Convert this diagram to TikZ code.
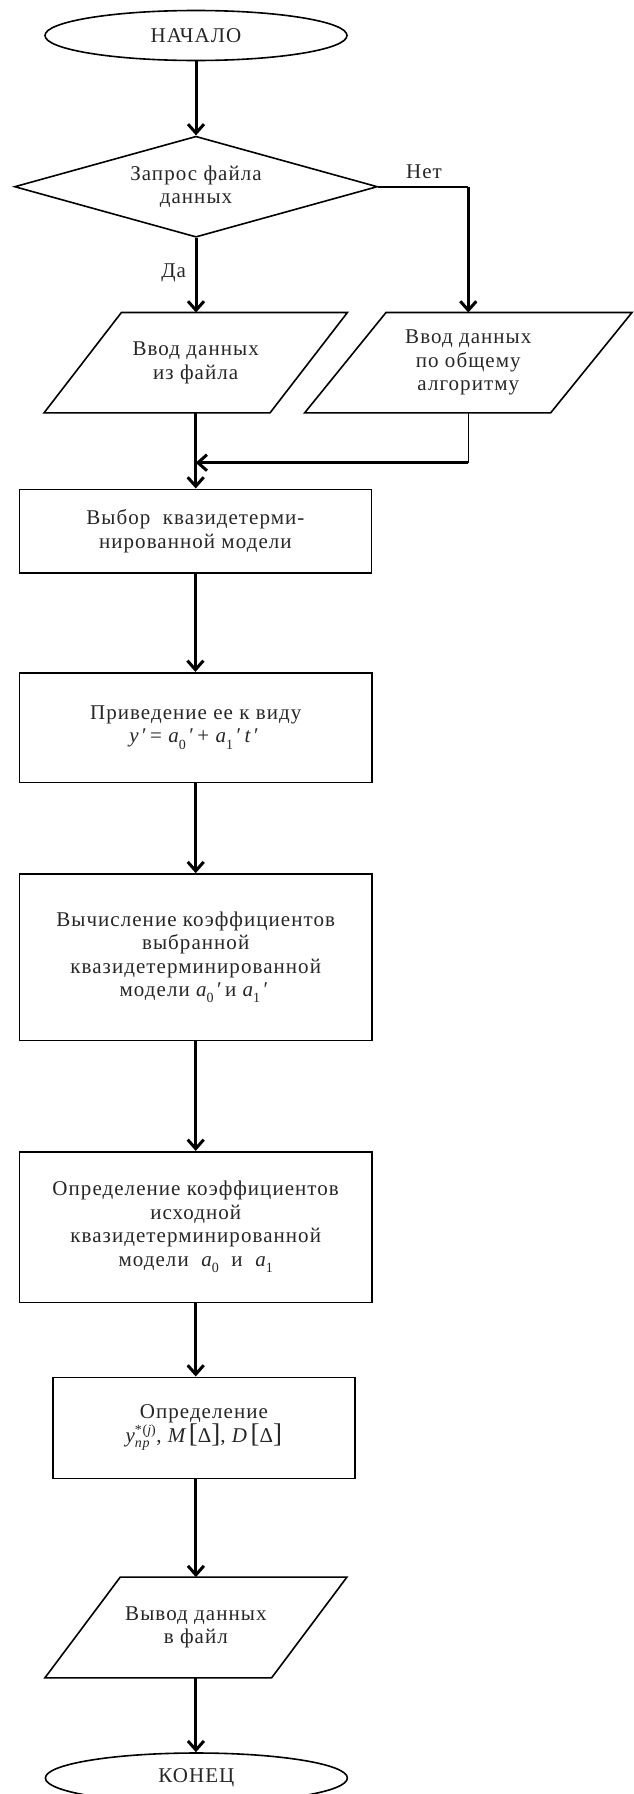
\RequirePackage{fix-cm}
\documentclass[tikz,border=0pt]{standalone}
\usepackage{fontspec}
\setmainfont{Liberation Serif}[LetterSpace=5]
\usetikzlibrary{shapes.geometric,arrows.meta,calc}
\newcommand{\vi}[1]{{\itshape #1}}
\newcommand{\sbs}[1]{\raisebox{-0.3em}{\fontsize{14}{14}\selectfont #1}}
\newcommand{\scr}[1]{\mbox{\fontsize{14}{14}\selectfont #1}}
\newcommand{\pr}{\,′\,}
\newcommand{\bigbr}[1]{{\fontsize{27}{27}\selectfont #1}}
\begin{document}
\begin{tikzpicture}[x=1pt,y=-1pt,
  txt/.style={text=black!85, font=\fontsize{21}{23.5}\selectfont, align=center, inner sep=0pt},
  box/.style={txt, draw=black, line width=1.6pt, rectangle},
  term/.style={txt, draw=black, line width=1.6pt, ellipse, minimum width=302pt, minimum height=50pt},
  dec/.style={txt, draw=black, line width=1.6pt, diamond, shape aspect=3.6, minimum width=363pt, minimum height=101pt},
  para/.style={txt, rectangle},
  ln/.style={line width=1.6pt},
  arr/.style={line width=3pt, -{Straight Barb[length=9pt,width=16pt]}}
]
\useasboundingbox (0,0) rectangle (633,1794);

% nodes
\node[term] (start) at (196,35.5) {НАЧАЛО};
\node[dec] (q) at (196,186.7) {Запрос файла\\данных};
\node[para, minimum width=303pt, minimum height=100pt] (p1) at (195.7,362.7) {Ввод данных\\из файла};
\node[para, minimum width=327pt, minimum height=100pt] (p2) at (468.3,362.7) {Ввод данных\\по общему\\алгоритму};
\node[box, minimum width=352pt, minimum height=83.4pt] (b1) at (195.4,531) {Выбор\ \ квазидетерми-\\нированной модели};
\node[box, minimum width=352.7pt, minimum height=109.6pt] (b2) at (195.7,727.5) {Приведение ее к виду\\\vi{y}\pr= \vi{a}\sbs{0}\pr+ \vi{a}\sbs{1}\pr\vi{t}\pr};
\node[box, minimum width=352.7pt, minimum height=166.7pt] (b3) at (195.7,957.3) {Вычисление коэффициентов\\выбранной\\квазидетерминированной\\модели \vi{a}\sbs{0}\pr и \vi{a}\sbs{1}\pr};
\node[box, minimum width=352.7pt, minimum height=150.6pt] (b4) at (195.7,1227) {Определение коэффициентов\\исходной\\квазидетерминированной\\модели\ \ \vi{a}\sbs{0}\ \ и\ \ \vi{a}\sbs{1}};
\node[box, minimum width=302.3pt, minimum height=101pt] (b5) at (203.9,1427.8) {Определение\\$\mbox{\vi{y}}^{\scr{*(\vi{j})}}_{\scr{\vi{np}}}$, \vi{M}\,\bigbr{[}Δ\bigbr{]}, \vi{D}\,\bigbr{[}Δ\bigbr{]}};
\node[para, minimum width=301.7pt, minimum height=100.4pt] (p3) at (195.9,1627.5) {Вывод данных\\в файл};
\node[term] (end) at (196.4,1778) {КОНЕЦ};

% parallelogram outlines
\draw[ln] (p1.south west) -- ([xshift=226pt]p1.south west) -- (p1.north east) -- ([xshift=-226pt]p1.north east) -- cycle;
\draw[ln] (p2.south west) -- ([xshift=246pt]p2.south west) -- (p2.north east) -- ([xshift=-246pt]p2.north east) -- cycle;
\draw[ln] (p3.south west) -- ([xshift=226.7pt]p3.south west) -- (p3.north east) -- ([xshift=-226.7pt]p3.north east) -- cycle;

% labels
\node[txt] (no) at (424,172) {Нет};
\node[txt] (yes) at (173.6,273) {Да};

% connectors
\coordinate (cno) at (468.3,186.7);
\coordinate (cmerge) at (468.3,462.7);
\coordinate (mmerge) at (195.7,462.7);
\draw[arr] (start) -- (q.north);
\draw[arr] (q.south) -- (q.south |- p1.north);
\draw[ln] (q.east) -- (cno);
\draw[arr] (cno) -- (p2.north);
\draw[ln] (p2.south) -- (cmerge);
\draw[arr] (cmerge) -- (mmerge);
\draw[arr] (p1.south) -- (p1.south |- b1.north);
\draw[arr] (b1.south) -- (b1.south |- b2.north);
\draw[arr] (b2.south) -- (b3.north);
\draw[arr] (b3.south) -- (b4.north);
\draw[arr] (b4.south) -- (b4.south |- b5.north);
\draw[arr] (p3.north |- b5.south) -- (p3.north);
\draw[arr] (p3.south) -- (p3.south |- end.north);
\end{tikzpicture}
\end{document}
